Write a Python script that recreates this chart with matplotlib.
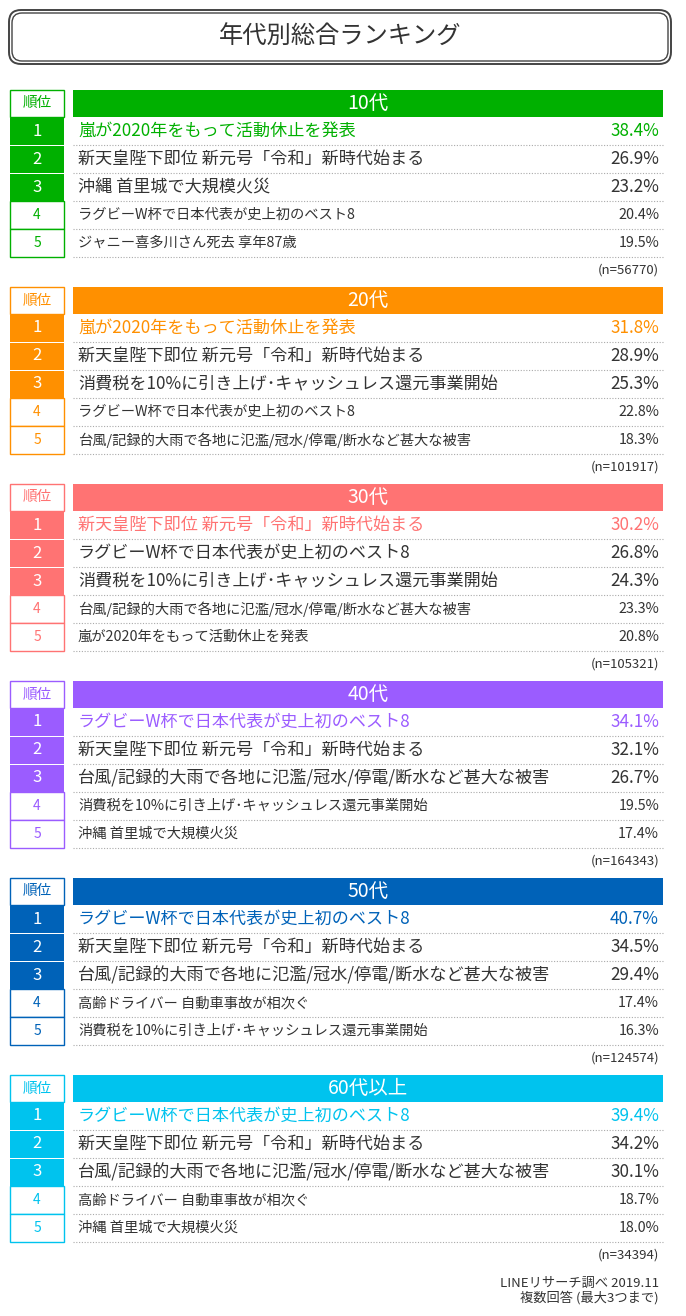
import matplotlib
matplotlib.use("Agg")
import matplotlib.pyplot as plt
from matplotlib.patches import Rectangle, FancyBboxPatch

plt.rcParams["font.family"] = "Noto Sans CJK JP"

title = "年代別総合ランキング"
groups = ["10代", "20代", "30代", "40代", "50代", "60代以上"]
colors = ["#00b000", "#ff9000", "#ff7373", "#9b5cff", "#0062b8", "#00c3ee"]
items = [
    ["嵐が2020年をもって活動休止を発表", "新天皇陛下即位 新元号「令和」新時代始まる", "沖縄 首里城で大規模火災",
     "ラグビーW杯で日本代表が史上初のベスト8", "ジャニー喜多川さん死去 享年87歳"],
    ["嵐が2020年をもって活動休止を発表", "新天皇陛下即位 新元号「令和」新時代始まる", "消費税を10%に引き上げ･キャッシュレス還元事業開始",
     "ラグビーW杯で日本代表が史上初のベスト8", "台風/記録的大雨で各地に氾濫/冠水/停電/断水など甚大な被害"],
    ["新天皇陛下即位 新元号「令和」新時代始まる", "ラグビーW杯で日本代表が史上初のベスト8", "消費税を10%に引き上げ･キャッシュレス還元事業開始",
     "台風/記録的大雨で各地に氾濫/冠水/停電/断水など甚大な被害", "嵐が2020年をもって活動休止を発表"],
    ["ラグビーW杯で日本代表が史上初のベスト8", "新天皇陛下即位 新元号「令和」新時代始まる", "台風/記録的大雨で各地に氾濫/冠水/停電/断水など甚大な被害",
     "消費税を10%に引き上げ･キャッシュレス還元事業開始", "沖縄 首里城で大規模火災"],
    ["ラグビーW杯で日本代表が史上初のベスト8", "新天皇陛下即位 新元号「令和」新時代始まる", "台風/記録的大雨で各地に氾濫/冠水/停電/断水など甚大な被害",
     "高齢ドライバー 自動車事故が相次ぐ", "消費税を10%に引き上げ･キャッシュレス還元事業開始"],
    ["ラグビーW杯で日本代表が史上初のベスト8", "新天皇陛下即位 新元号「令和」新時代始まる", "台風/記録的大雨で各地に氾濫/冠水/停電/断水など甚大な被害",
     "高齢ドライバー 自動車事故が相次ぐ", "沖縄 首里城で大規模火災"],
]
values = [
    [38.4, 26.9, 23.2, 20.4, 19.5],
    [31.8, 28.9, 25.3, 22.8, 18.3],
    [30.2, 26.8, 24.3, 23.3, 20.8],
    [34.1, 32.1, 26.7, 19.5, 17.4],
    [40.7, 34.5, 29.4, 17.4, 16.3],
    [39.4, 34.2, 30.1, 18.7, 18.0],
]
n_values = [56770, 101917, 105321, 164343, 124574, 34394]
footer = ["LINEリサーチ調べ 2019.11", "複数回答 (最大3つまで)"]

W, H = 686, 1316
fig = plt.figure(figsize=(W / 100, H / 100), dpi=100)
ax = fig.add_axes([0, 0, 1, 1])
ax.set_xlim(0, W)
ax.set_ylim(H, 0)
ax.axis("off")

TXT = "#333333"
ax.add_patch(FancyBboxPatch((9, 10), 662, 54, boxstyle="round,pad=0,rounding_size=12",
                            fc="white", ec="#444444", lw=1.4))
ax.add_patch(FancyBboxPatch((12, 13), 656, 48, boxstyle="round,pad=0,rounding_size=10",
                            fc="white", ec="#444444", lw=1.0))
ax.text(340, 37, title, ha="center", va="center", fontsize=17.5, color=TXT)

top0, step = 90, 197
hh, rh = 27, 28
rx0, rx1 = 10, 64
mx0, mx1 = 73, 663
for g, (gname, col) in enumerate(zip(groups, colors)):
    y0 = top0 + g * step
    ax.add_patch(Rectangle((rx0, y0), rx1 - rx0, hh, fc="white", ec=col, lw=1))
    ax.text((rx0 + rx1) / 2, y0 + hh / 2, "順位", ha="center", va="center", fontsize=10.5, color=col)
    ax.add_patch(Rectangle((mx0, y0), mx1 - mx0, hh, fc=col, ec="none"))
    ax.text((mx0 + mx1) / 2, y0 + hh / 2, gname, ha="center", va="center", fontsize=14, color="white")
    for r in range(5):
        ry = y0 + hh + r * rh
        top3 = r < 3
        if top3:
            ax.add_patch(Rectangle((rx0, ry + 1), rx1 - rx0, rh - 1, fc=col, ec="none"))
            ax.text((rx0 + rx1) / 2, ry + rh / 2, str(r + 1), ha="center", va="center", fontsize=12, color="white")
        else:
            ax.add_patch(Rectangle((rx0, ry), rx1 - rx0, rh, fc="white", ec=col, lw=1))
            ax.text((rx0 + rx1) / 2, ry + rh / 2, str(r + 1), ha="center", va="center", fontsize=10, color=col)
        tc = col if r == 0 else TXT
        fs = 12.3 if top3 else 10.3
        ax.text(mx0 + 5, ry + rh / 2, items[g][r], ha="left", va="center", fontsize=fs, color=tc)
        ax.text(mx1 - 4, ry + rh / 2, f"{values[g][r]:.1f}%", ha="right", va="center", fontsize=fs, color=tc)
        ax.plot([mx0, mx1], [ry + rh, ry + rh], color="#aaaaaa", lw=0.8, ls=(0, (1, 1.5)))
    ax.text(mx1 - 4, y0 + hh + 5 * rh + 13, f"(n={n_values[g]})", ha="right", va="center", fontsize=9.5, color=TXT)

ax.text(mx1 - 4, 1283, footer[0], ha="right", va="center", fontsize=9.5, color=TXT)
ax.text(mx1 - 4, 1298, footer[1], ha="right", va="center", fontsize=9.5, color=TXT)

fig.savefig("out.png", dpi=100)
